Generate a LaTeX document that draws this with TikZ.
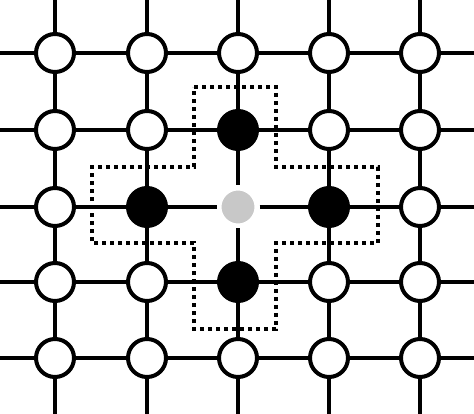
\documentclass[tikz,border=0pt]{standalone}
\usepackage{xcolor}
\definecolor{siteGray}{HTML}{C8C8C8}
\usepackage{tikz}
\tikzset{site/.style={circle, draw=black, line width=4pt, fill=white, minimum size=38pt, inner sep=0pt}}
\tikzset{filled site/.style={site, fill=black}}
\tikzset{centre site/.style={site, draw=white, line width=5pt, fill=siteGray}}
\tikzset{bond/.style={line width=4pt}}
\tikzset{cross line/.style={line width=3.5pt, dash pattern=on 4pt off 4pt}}
% which sites are not plain
\tikzset{site 23/.style={filled site}, site 32/.style={filled site},
  site 34/.style={filled site}, site 43/.style={filled site},
  site 33/.style={centre site}}

\begin{document}
\begin{tikzpicture}[x=1pt,y=-1pt]
\useasboundingbox (0,0) rectangle (474,414);
%--------------------
% the sites
%--------------------
\foreach \c/\x in {1/55,2/147,3/238,4/329,5/420}{
  \coordinate (top\c) at (\x,0);
  \coordinate (bot\c) at (\x,414);
  \foreach \r/\y in {1/53,2/130,3/207,4/282,5/358}
    \node[site, site \r\c/.try](s\r\c) at (\x,\y){};
}
\foreach \r/\y in {1/53,2/130,3/207,4/282,5/358}{
  \coordinate (left\r) at (0,\y);
  \coordinate (right\r) at (474,\y);
}

%--------------------
% the bonds
%--------------------
\foreach \c in {1,...,5}{
  \draw[bond] (top\c) -- (s1\c);
  \draw[bond] (s5\c) -- (bot\c);
  \draw[bond] (left\c) -- (s\c1);
  \draw[bond] (s\c5) -- (right\c);
}
\foreach \r [count=\rn from 2] in {1,...,4}
  \foreach \c in {1,...,5}{
    \draw[bond] (s\r\c) -- (s\rn\c);
    \draw[bond] (s\c\r) -- (s\c\rn);
  }

%--------------------
% the neighbourhood
%--------------------
\draw[cross line] (194,87) -- (276,87) -- (276,167) -- (378,167) -- (378,243)
  -- (276,243) -- (276,329) -- (194,329) -- (194,243) -- (92,243)
  -- (92,167) -- (194,167) -- cycle;
\end{tikzpicture}
\end{document}
